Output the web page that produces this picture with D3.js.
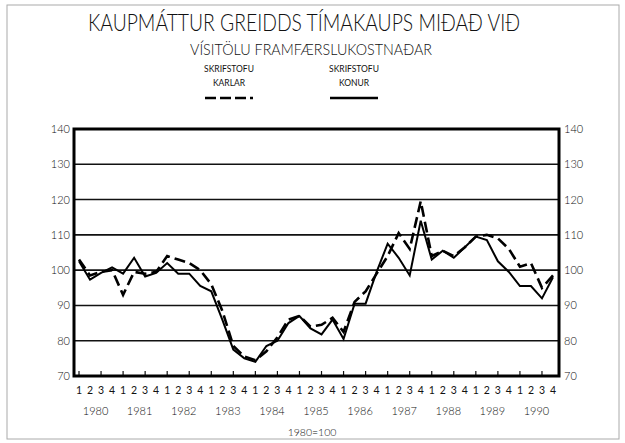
<!DOCTYPE html>
<html>
<head>
<meta charset="utf-8">
<script src="https://cdn.jsdelivr.net/npm/d3@7"></script>
<style>
  body { margin: 0; background: #fff; }
  text { font-family: Lato, "Open Sans", "DejaVu Sans", sans-serif; fill: #111; }
</style>
</head>
<body>
<div id="chart"></div>
<script>
// quarters 1980 Q1 .. 1990 Q4
const years = ["1980","1981","1982","1983","1984","1985","1986","1987","1988","1989","1990"];
const quarterLabels = ["1","2","3","4"];
const yTicks = [70, 80, 90, 100, 110, 120, 130, 140];

// Skrifstofu karlar (dashed)
const karlar = [103, 98.5, 99.5, 100, 93, 99.5, 99, 99.5,
                104, 103, 102, 100, 96, 88.5, 78.5, 75.5,
                74.5, 77, 81, 86, 87, 84, 84.5, 86.5,
                82.5, 91, 94, 99, 104, 110.5, 106, 119.5,
                104, 105.5, 104, 106.5, 109.5, 110, 109, 106,
                101, 102, 95, 98.5];

// Skrifstofu konur (solid)
const konur = [102.5, 97.3, 99.2, 100.8, 99, 103.5, 98.2, 99.2,
               102, 99, 99, 95.5, 94, 86, 77.5, 75,
               74, 78.5, 80, 85, 87, 83.5, 81.8, 86,
               80.5, 90.5, 90.5, 99.5, 107.5, 103.5, 98.5, 114,
               103, 105.5, 103.5, 106.5, 109.5, 108.5, 102.5, 99.5,
               95.5, 95.5, 92, 98];

const W = 625, H = 443;
const plot = {left: 74, right: 559, top: 129, bottom: 376};

let svg = d3.select("#chart")
    .append("svg")
    .attr("width", W)
    .attr("height", H);

// page frame (scanned sheet edge)
svg.append("rect")
    .attr("x", 7).attr("y", 5)
    .attr("width", 612).attr("height", 434)
    .attr("fill", "none")
    .attr("stroke", "#aaa")
    .attr("stroke-width", 1);

// titles
svg.append("text")
    .attr("x", 304).attr("y", 31)
    .attr("text-anchor", "middle")
    .attr("font-size", 23)
    .attr("font-weight", 300)
    .attr("textLength", 432)
    .attr("lengthAdjust", "spacingAndGlyphs")
    .text("KAUPMÁTTUR GREIDDS TÍMAKAUPS MIÐAÐ VIÐ");

svg.append("text")
    .attr("x", 311).attr("y", 55)
    .attr("text-anchor", "middle")
    .attr("font-size", 15)
    .attr("font-weight", 300)
    .attr("textLength", 242)
    .attr("lengthAdjust", "spacingAndGlyphs")
    .text("VÍSITÖLU FRAMFÆRSLUKOSTNAÐAR");

// legend
const legend = [
    {name: "KARLAR", cx: 229, dash: "11,4"},
    {name: "KONUR", cx: 354, dash: null}
];
legend.forEach(function(d) {
    svg.append("text")
        .attr("x", d.cx).attr("y", 72)
        .attr("text-anchor", "middle")
        .attr("font-size", 8.5)
        .text("SKRIFSTOFU");
    svg.append("text")
        .attr("x", d.cx).attr("y", 86)
        .attr("text-anchor", "middle")
        .attr("font-size", 8.5)
        .text(d.name);
    svg.append("line")
        .attr("x1", d.cx - 24).attr("x2", d.cx + 24)
        .attr("y1", 98).attr("y2", 98)
        .attr("stroke", "#000")
        .attr("stroke-width", 2.5)
        .attr("stroke-dasharray", d.dash);
});

// scales
var x = d3.scaleLinear()
    .domain([0, karlar.length - 1])
    .range([79, 553]);

var y = d3.scaleLinear()
    .domain([70, 140])
    .range([plot.bottom, plot.top]);

// gridlines
svg.append("g")
    .selectAll("line")
    .data(yTicks.slice(1, -1))
    .enter()
    .append("line")
    .attr("x1", plot.left).attr("x2", plot.right)
    .attr("y1", d => y(d)).attr("y2", d => y(d))
    .attr("stroke", "#111")
    .attr("stroke-width", 1.6);

// left / right axes labels
var axisL = svg.append("g")
    .attr("transform", "translate(" + plot.left + ",0)")
    .call(d3.axisLeft(y).tickValues(yTicks).tickSize(0).tickPadding(4));
var axisR = svg.append("g")
    .attr("transform", "translate(" + plot.right + ",0)")
    .call(d3.axisRight(y).tickValues(yTicks).tickSize(0).tickPadding(5));
[axisL, axisR].forEach(function(a) {
    a.select(".domain").remove();
    a.selectAll("text")
        .attr("font-size", 11)
        .attr("font-weight", 300)
        .style("font-family", "Lato, 'Open Sans', sans-serif")
        .attr("fill", "#111");
});

// bottom ticks every half year
svg.append("g")
    .selectAll("line")
    .data(d3.range(0, karlar.length, 2))
    .enter()
    .append("line")
    .attr("x1", d => x(d)).attr("x2", d => x(d))
    .attr("y1", plot.bottom).attr("y2", plot.bottom - 5)
    .attr("stroke", "#111")
    .attr("stroke-width", 1.2);

// plot frame
svg.append("rect")
    .attr("x", plot.left).attr("y", plot.top)
    .attr("width", plot.right - plot.left)
    .attr("height", plot.bottom - plot.top)
    .attr("fill", "none")
    .attr("stroke", "#000")
    .attr("stroke-width", 3);

// quarter labels
svg.append("g")
    .selectAll("text")
    .data(d3.range(karlar.length))
    .enter()
    .append("text")
    .attr("x", d => x(d))
    .attr("y", 394)
    .attr("text-anchor", "middle")
    .attr("font-size", 10.5)
    .text(d => quarterLabels[d % 4]);

// year labels
svg.append("g")
    .selectAll("text")
    .data(years)
    .enter()
    .append("text")
    .attr("x", (d, i) => x(i * 4 + 1.5))
    .attr("y", 415)
    .attr("text-anchor", "middle")
    .attr("font-size", 11)
    .attr("font-weight", 300)
    .text(d => d);

svg.append("text")
    .attr("x", 312).attr("y", 436)
    .attr("text-anchor", "middle")
    .attr("font-size", 10.5)
    .attr("font-weight", 300)
    .text("1980=100");

// lines
var line = d3.line()
    .x((d, i) => x(i))
    .y(d => y(d));

svg.append("path")
    .datum(konur)
    .attr("d", line)
    .attr("fill", "none")
    .attr("stroke", "#000")
    .attr("stroke-width", 2)
    .attr("stroke-linejoin", "miter");

svg.append("path")
    .datum(karlar)
    .attr("d", line)
    .attr("fill", "none")
    .attr("stroke", "#000")
    .attr("stroke-width", 2.6)
    .attr("stroke-dasharray", "11,5");
</script>
</body>
</html>
